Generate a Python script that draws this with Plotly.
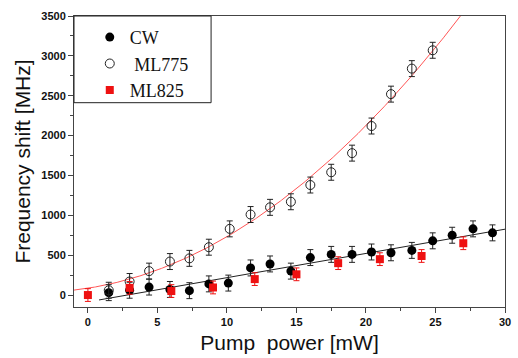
import numpy as np
import plotly.graph_objects as go

# CW (filled black circles)
cw_x = [1.5, 3.0, 4.4, 5.9, 7.3, 8.7, 10.1, 11.7, 13.1, 14.6, 16.0, 17.5, 19.0, 20.4, 21.8, 23.3, 24.8, 26.2, 27.7, 29.1]
cw_y = [30, 60, 100, 70, 55, 140, 150, 340, 390, 300, 470, 510, 510, 540, 530, 560, 680, 750, 830, 780]
cw_err = [100] * len(cw_x)

# ML775 (open circles)
ml775_x = [1.5, 3.0, 4.4, 5.9, 7.3, 8.7, 10.2, 11.7, 13.1, 14.6, 16.0, 17.5, 19.0, 20.4, 21.8, 23.3, 24.8]
ml775_y = [60, 170, 300, 420, 460, 600, 830, 1010, 1100, 1170, 1380, 1540, 1780, 2120, 2520, 2840, 3070]
ml775_err = [100] * len(ml775_x)

# ML825 (red squares)
ml825_x = [0, 3, 6, 9, 12, 15, 18, 21, 24, 27]
ml825_y = [0, 90, 50, 95, 200, 260, 400, 450, 490, 650]
ml825_err = [80] * len(ml825_x)

x_ticks = [0, 5, 10, 15, 20, 25, 30]
y_ticks = [0, 500, 1000, 1500, 2000, 2500, 3000, 3500]

# fit coefficients (highest power first)
cw_fit = [30.4, -86.0]            # linear fit of CW
ml775_fit = [3.74, 27.2, 85.5]    # quadratic fit of ML775
cw_fit_range = [0.8, 30]
ml775_fit_range = [-1, 30]

xl = np.linspace(cw_fit_range[0], cw_fit_range[1], 50)
xq = np.linspace(ml775_fit_range[0], ml775_fit_range[1], 400)
yq = np.polyval(ml775_fit, xq)
mask = yq <= 3560

fig = go.Figure()
fig.add_trace(go.Scatter(x=xq[mask], y=yq[mask], mode="lines",
                         line=dict(color="#ff5555", width=1), showlegend=False, hoverinfo="skip"))
fig.add_trace(go.Scatter(x=xl, y=np.polyval(cw_fit, xl), mode="lines",
                         line=dict(color="#222222", width=1), showlegend=False, hoverinfo="skip"))

fig.add_trace(go.Scatter(x=cw_x, y=cw_y, mode="markers", name="CW",
                         marker=dict(symbol="circle", size=9, color="black"),
                         error_y=dict(type="data", array=cw_err, color="#222222", thickness=1, width=3)))
fig.add_trace(go.Scatter(x=ml775_x, y=ml775_y, mode="markers", name=" ML775",
                         marker=dict(symbol="circle-open", size=9, color="#222222", line=dict(width=1)),
                         error_y=dict(type="data", array=ml775_err, color="#222222", thickness=1, width=3)))
fig.add_trace(go.Scatter(x=ml825_x, y=ml825_y, mode="markers", name="ML825",
                         marker=dict(symbol="square", size=8, color="#ee1111"),
                         error_y=dict(type="data", array=ml825_err, color="#ee1111", thickness=1, width=3)))

axis_common = dict(showline=True, linecolor="#444444", linewidth=1, mirror=True,
                   ticks="outside", ticklen=5, tickcolor="#444444", showgrid=False, zeroline=False,
                   tickfont=dict(family="Liberation Sans, Arial", size=11, color="#111111", weight="bold"))

fig.update_layout(
    width=518, height=358,
    margin=dict(l=74, r=7, t=16, b=50),
    paper_bgcolor="white", plot_bgcolor="white",
    xaxis=dict(range=[-1, 30], tickvals=x_ticks,
               minor=dict(ticks="outside", ticklen=3, dtick=2.5, tick0=0, tickcolor="#444444"),
               title=dict(text="Pump  power [mW]", font=dict(family="Liberation Sans, Arial", size=21, color="#111111"), standoff=8),
               **axis_common),
    yaxis=dict(range=[-150, 3500], tickvals=y_ticks,
               minor=dict(ticks="outside", ticklen=3, dtick=250, tick0=0, tickcolor="#444444"),
               title=dict(text="Frequency shift [MHz]", font=dict(family="Liberation Sans, Arial", size=21, color="#111111"), standoff=4),
               **axis_common),
    legend=dict(x=16 / 437, y=0.99, xanchor="left", yanchor="top", borderwidth=0,
                bgcolor="rgba(0,0,0,0)", font=dict(family="Liberation Serif, Times New Roman", size=18, color="#111111"),
                itemwidth=30, tracegroupgap=0),
    shapes=[dict(type="rect", xref="paper", yref="paper", x0=0, x1=139 / 437, y0=1 - 87 / 292, y1=1,
                 line=dict(color="#222222", width=1), fillcolor="white", layer="above")],
    showlegend=True,
)

fig.write_html("out.html")
